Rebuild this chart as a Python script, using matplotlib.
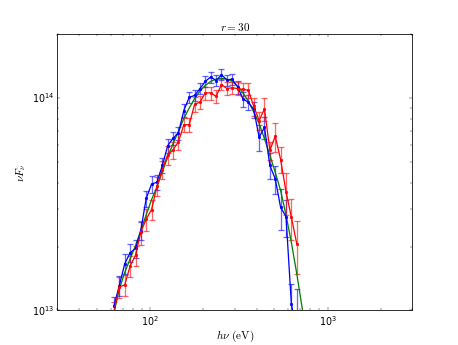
import matplotlib
matplotlib.use("Agg")
import matplotlib.pyplot as plt
import matplotlib.ticker as mticker
import numpy as np

plt.style.use("classic")

# photon energies (eV)
energy = [62.6, 67.1, 72.0, 77.2, 82.8, 88.7, 95.1, 102.0, 109.4, 117.3,
          125.7, 134.8, 144.6, 155.0, 166.2, 178.2, 191.1, 204.9, 219.7, 235.6,
          252.6, 270.9, 290.4, 311.4, 333.9, 358.1, 383.9, 411.7, 441.4, 473.3,
          507.5, 544.2, 583.5, 625.7, 670.9]

# nu F_nu in units of 1e13
blue_flux = [1.05, 1.31, 1.66, 1.87, 1.96, 2.38, 3.37, 3.94, 4.02, 4.82,
             5.98, 6.47, 6.87, 8.75, 10.1, 10.3, 11.1, 12.0, 12.6, 12.1,
             12.9, 12.2, 12.3, 11.3, 9.93, 9.57, 8.85, 6.55, 7.29, 4.82,
             4.17, 3.06, 2.77, 1.07, 0.79]
blue_err = [0.10, 0.11, 0.11, 0.10, 0.10, 0.10, 0.09, 0.09, 0.08, 0.08,
            0.08, 0.07, 0.07, 0.07, 0.06, 0.06, 0.06, 0.06, 0.06, 0.06,
            0.06, 0.06, 0.06, 0.07, 0.08, 0.08, 0.09, 0.14, 0.12, 0.14,
            0.15, 0.22, 0.20, 0.24, 0.60]

red_flux = [0.98, 1.29, 1.32, 1.62, 1.82, 2.34, 2.69, 2.99, 3.85, 4.61,
            5.41, 5.71, 6.25, 7.50, 7.50, 9.35, 9.59, 10.6, 10.6, 10.2,
            11.6, 11.1, 11.2, 11.1, 11.0, 10.9, 9.16, 7.85, 8.91, 5.68,
            6.62, 5.14, 3.63, 2.75, 2.06]
red_err = [0.12, 0.11, 0.11, 0.11, 0.11, 0.13, 0.12, 0.11, 0.10, 0.10,
           0.10, 0.09, 0.09, 0.08, 0.08, 0.08, 0.07, 0.07, 0.07, 0.07,
           0.06, 0.07, 0.07, 0.07, 0.07, 0.08, 0.10, 0.10, 0.12, 0.10,
           0.16, 0.14, 0.22, 0.22, 0.28]

model_energy = energy + [719.4, 771.4]
model_flux = [0.98, 1.26, 1.51, 1.75, 2.02, 2.38, 2.82, 3.33, 3.82, 4.50,
              5.28, 6.11, 6.98, 8.02, 8.99, 9.95, 10.8, 11.5, 12.0, 12.3,
              12.4, 12.3, 12.0, 11.4, 10.6, 9.66, 8.61, 7.59, 6.44, 5.38,
              4.48, 3.67, 2.82, 2.09, 1.49, 1.03, 0.71]

SCALE = 1e13

fig, ax = plt.subplots(figsize=(8, 6.03), dpi=57.25)

for flux, err, col, ecol in [(blue_flux, blue_err, "b", (0, 0, 1, 0.6)),
                             (red_flux, red_err, "r", (1, 0, 0, 0.6))]:
    f = np.array(flux) * SCALE
    ax.errorbar(energy, f, yerr=f * np.array(err), fmt="o-", color=col,
                ecolor=ecol, mec=col, ms=3.5, lw=1.6,
                elinewidth=1.6, capsize=4, capthick=1.6)

ax.plot(model_energy, np.array(model_flux) * SCALE, "-", color="g", lw=1.6)

ax.set_xscale("log")
ax.set_yscale("log")
ax.set_xlim(30, 3000)
ax.set_ylim(1e13, 2e14)
ax.xaxis.set_minor_formatter(mticker.NullFormatter())
ax.yaxis.set_minor_formatter(mticker.NullFormatter())

ax.set_title(r"$r=30$", fontsize=14)
ax.set_xlabel(r"$h\nu$ $(\mathrm{eV})$", fontsize=14, labelpad=1)
ax.set_ylabel(r"$\nu F_\nu$", fontsize=14)

fig.subplots_adjust(left=0.125, right=0.9, bottom=0.1, top=0.9)
fig.savefig("out.png", dpi=57.25, facecolor="white")
